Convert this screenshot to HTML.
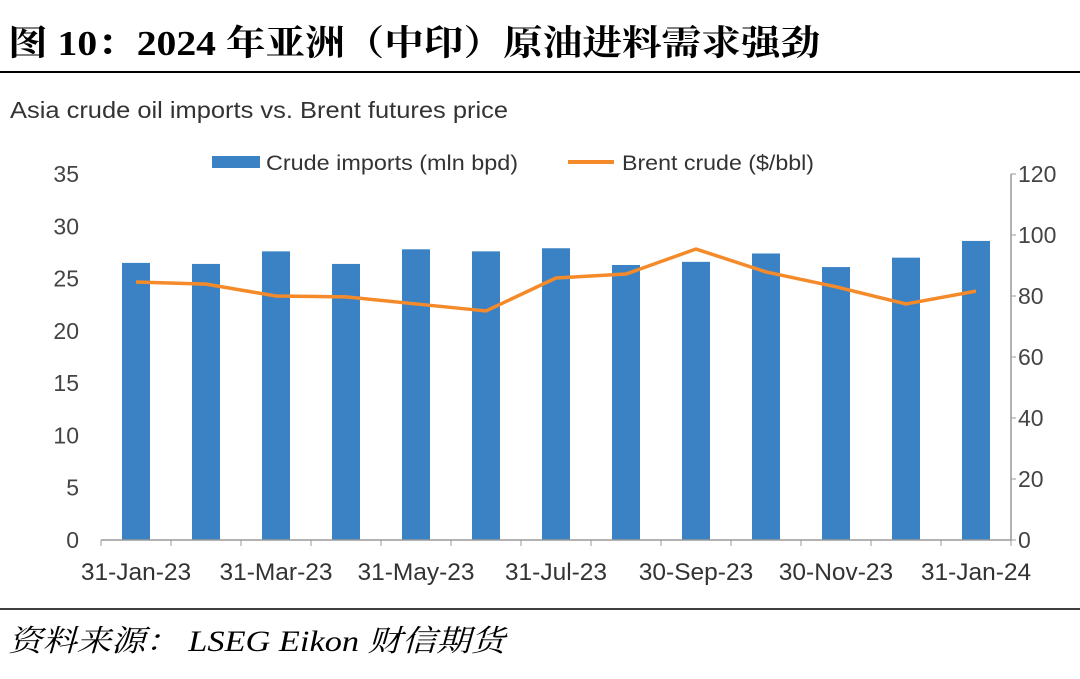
<!DOCTYPE html>
<html><head><meta charset="utf-8"><style>
body{margin:0;width:1080px;height:674px;background:#fff;overflow:hidden;}
.sans{font-family:"Liberation Sans","Noto Sans CJK SC",sans-serif;}
.serif{font-family:"Liberation Serif","Noto Serif CJK SC",serif;}
</style></head><body>
<svg width="1080" height="674">
<text class="serif" x="8" y="55" font-size="35" font-weight="bold" fill="#000" textLength="812" lengthAdjust="spacingAndGlyphs">图 10：2024 年亚洲（中印）原油进料需求强劲</text>
<line x1="0" y1="72" x2="1080" y2="72" stroke="#000" stroke-width="2"/>
<text class="sans" x="10" y="118" font-size="23" fill="#333" textLength="498" lengthAdjust="spacingAndGlyphs">Asia crude oil imports vs. Brent futures price</text>
<g id="legend">
<rect x="212" y="156" width="48" height="12" fill="#3b82c4"/>
<text class="sans" x="266" y="170" font-size="21.5" fill="#333" textLength="252" lengthAdjust="spacingAndGlyphs">Crude imports (mln bpd)</text>
<line x1="568" y1="162" x2="614" y2="162" stroke="#f58a2a" stroke-width="4"/>
<text class="sans" x="622" y="170" font-size="21.5" fill="#333" textLength="192" lengthAdjust="spacingAndGlyphs">Brent crude ($/bbl)</text>
</g>
<g id="plot" class="sans"></g>
<line x1="0" y1="609" x2="1080" y2="609" stroke="#000" stroke-width="1.5"/>
<text class="serif" x="8" y="651" font-size="30" font-style="italic" fill="#000" textLength="497" lengthAdjust="spacingAndGlyphs">资料来源：  LSEG Eikon 财信期货</text>
</svg>
<script>
const categories=["31-Jan-23","28-Feb-23","31-Mar-23","30-Apr-23","31-May-23","30-Jun-23","31-Jul-23","31-Aug-23","30-Sep-23","31-Oct-23","30-Nov-23","31-Dec-23","31-Jan-24"];
const importsValues=[26.5,26.4,27.6,26.4,27.8,27.6,27.9,26.3,26.6,27.4,26.1,27.0,28.6];
const brentValues=[84.6,83.9,80.0,79.7,77.4,75.1,85.9,87.2,95.4,87.9,83.0,77.4,81.6];
const leftTicks=[0,5,10,15,20,25,30,35];
const rightTicks=[0,20,40,60,80,100,120];
const NS="http://www.w3.org/2000/svg";
const g=document.getElementById('plot');
const x0=101,x1=1011,yB=540,yT=174;
const step=(x1-x0)/categories.length;
const xC=i=>x0+step*(i+0.5);
const yL=v=>yB-(v/35)*(yB-yT);
const yR=v=>yB-(v/120)*(yB-yT);
function mk(t,a){const e=document.createElementNS(NS,t);for(const k in a)e.setAttribute(k,a[k]);g.appendChild(e);return e;}
leftTicks.forEach(v=>{const t=mk('text',{x:79,y:yL(v)+8,'font-size':23,fill:'#444','text-anchor':'end'});t.textContent=v;

});
rightTicks.forEach(v=>{const t=mk('text',{x:1018,y:yR(v)+8,'font-size':23,fill:'#444'});t.textContent=v;


const k=mk('line',{x1:1011,x2:1016,y1:yR(v),y2:yR(v),stroke:'#999'});

});
const ra=mk('line',{x1:1011,x2:1011,y1:yT,y2:yB,stroke:'#999','stroke-width':1.5});


importsValues.forEach((v,i)=>{const r=mk('rect',{x:xC(i)-14,y:yL(v),width:28,height:yB-yL(v),fill:'#3b82c4'});

});
const xa=mk('line',{x1:x0,x2:x1,y1:yB,y2:yB,stroke:'#999','stroke-width':1.5});


for(let i=0;i<=categories.length;i++){const k=mk('line',{x1:x0+step*i,x2:x0+step*i,y1:yB,y2:yB+6,stroke:'#999'});

}
categories.forEach((c,i)=>{if(i%2)return;const t=mk('text',{x:xC(i),y:580,'font-size':24.5,fill:'#333','text-anchor':'middle'});t.textContent=c;

});
const ln=mk('polyline',{points:brentValues.map((v,i)=>xC(i)+','+yR(v)).join(' '),fill:'none',stroke:'#f58a2a','stroke-width':3.5,'stroke-linejoin':'round'});


</script>
</body></html>
